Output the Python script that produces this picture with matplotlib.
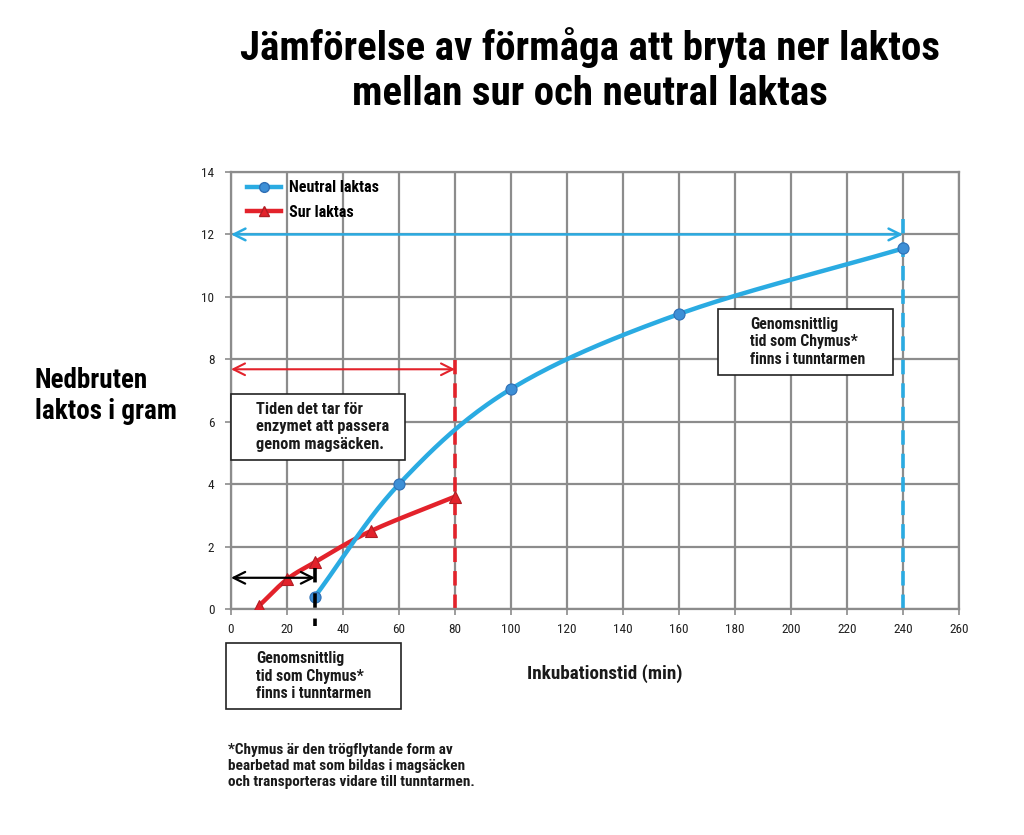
import numpy as np
import matplotlib
matplotlib.use("Agg")
import matplotlib.pyplot as plt
from matplotlib.patches import FancyArrowPatch

# ---- data ----
neutral_x = [30, 60, 100, 160, 240]
neutral_y = [0.4, 4.0, 7.05, 9.45, 11.55]
sur_x = [10, 20, 30, 50, 80]
sur_y = [0.1, 0.95, 1.5, 2.5, 3.6]
xticks = list(range(0, 261, 20))
yticks = list(range(0, 15, 2))

title = "Jämförelse av förmåga att bryta ner laktos\nmellan sur och neutral laktas"
ylabel = "Nedbruten\nlaktos i gram"
xlabel = "Inkubationstid (min)"
box1 = "Tiden det tar för\nenzymet att passera\ngenom magsäcken."
box2 = "Genomsnittlig\ntid som Chymus*\nfinns i tunntarmen"
footnote = ("*Chymus är den trögflytande form av\nbearbetad mat som bildas i magsäcken\n"
            "och transporteras vidare till tunntarmen.")

FONT = ["Roboto Condensed", "Archivo Narrow", "DejaVu Sans"]
plt.rcParams['font.family'] = FONT

BLUE = "#2AABE2"
BLUE_M = "#3D8FD6"
RED = "#E3222B"
GRID = "#8C8C8C"


def smooth(xs, ys, n=40):
    # Catmull-Rom style smoothing (Excel-like smoothed line)
    xs = np.asarray(xs, float); ys = np.asarray(ys, float)
    px = np.concatenate([[2 * xs[0] - xs[1]], xs, [2 * xs[-1] - xs[-2]]])
    py = np.concatenate([[2 * ys[0] - ys[1]], ys, [2 * ys[-1] - ys[-2]]])
    ox, oy = [], []
    t = np.linspace(0, 1, n)
    for i in range(1, len(px) - 2):
        p0, p1, p2, p3 = [np.array([px[j], py[j]]) for j in (i - 1, i, i + 1, i + 2)]
        m1 = (p2 - p0) / 2
        m2 = (p3 - p1) / 2
        h00 = 2 * t**3 - 3 * t**2 + 1
        h10 = t**3 - 2 * t**2 + t
        h01 = -2 * t**3 + 3 * t**2
        h11 = t**3 - t**2
        pts = np.outer(h00, p1) + np.outer(h10, m1) + np.outer(h01, p2) + np.outer(h11, m2)
        ox.extend(pts[:, 0]); oy.extend(pts[:, 1])
    return np.array(ox), np.array(oy)


fig = plt.figure(figsize=(10.24, 8.35), dpi=100)
ax = fig.add_axes([231 / 1024, 1 - 609 / 835, (959 - 231) / 1024, (609 - 172) / 835])
ax.set_xlim(0, 260)
ax.set_ylim(0, 14)
ax.set_xticks(xticks)
ax.set_yticks(yticks)
ax.grid(True, color=GRID, lw=1.6)
ax.set_axisbelow(True)
for s in ax.spines.values():
    s.set_color(GRID); s.set_linewidth(1.6)
ax.tick_params(axis='both', colors=GRID, length=4, width=1.2, labelsize=9.5, labelcolor="#222222")
ax.tick_params(axis='x', pad=6)
ax.tick_params(axis='y', pad=8)

# curves
sx, sy = smooth(sur_x, sur_y)
ax.plot(sx, sy, color=RED, lw=3.2, solid_capstyle='round', zorder=3)
ax.plot(sur_x, sur_y, ls='none', marker='^', ms=8, mfc=RED, mec="#B01E24", mew=0.8, zorder=4)
nx, ny = smooth(neutral_x, neutral_y)
ax.plot(nx, ny, color=BLUE, lw=3.2, solid_capstyle='round', zorder=3)
ax.plot(neutral_x, neutral_y, ls='none', marker='o', ms=8, mfc=BLUE_M, mec="#2F6FB5", mew=0.8, zorder=4)

# legend
ax.plot([], [], color=BLUE, lw=3.2, marker='o', ms=7, mfc=BLUE_M, mec="#2F6FB5", label="Neutral laktas")
ax.plot([], [], color=RED, lw=3.2, marker='^', ms=7, mfc=RED, mec="#B01E24", label="Sur laktas")
leg = ax.legend(loc='upper left', bbox_to_anchor=(0.005, 1.01), frameon=False,
                prop={'family': FONT, 'weight': 'bold', 'size': 11.5}, handlelength=2.1,
                handletextpad=0.5, labelspacing=0.6, borderaxespad=0.4)


def darrow(x0, x1, y, color, lw, ms=14):
    a = FancyArrowPatch((x1, y), (x0, y), arrowstyle='<->,head_length=0.6,head_width=0.3',
                        color=color, lw=lw, mutation_scale=ms, shrinkA=0, shrinkB=0,
                        clip_on=False, zorder=5)
    ax.add_patch(a)

darrow(0, 240, 12.0, BLUE, 1.8)
ax.plot([240, 240], [0, 12.5], color=BLUE, lw=2.6, ls=(0, (4, 2.5)), zorder=2, clip_on=False)
darrow(0, 80, 7.68, RED, 1.5)
ax.plot([80, 80], [0, 7.98], color=RED, lw=2.6, ls=(0, (4, 2.5)), zorder=2, clip_on=False)
darrow(0, 30, 1.0, "black", 1.6)
ax.plot([30, 30], [1.3, -0.55], color="black", lw=2.6, ls=(0, (4, 3)), zorder=6, clip_on=False)


def tbox(x0, y0, x1, y1, tx, text, fs):
    r = plt.Rectangle((x0 / 1024, 1 - y1 / 835), (x1 - x0) / 1024, (y1 - y0) / 835,
                      transform=fig.transFigure, facecolor='white', edgecolor='#222222',
                      lw=1.2, zorder=10)
    fig.add_artist(r)
    fig.text(tx / 1024, 1 - (y0 + y1) / 2 / 835, text, ha='left', va='center',
             fontsize=fs, fontweight='bold', color='#1a1a1a', linespacing=1.2,
             family=FONT, zorder=11)

tbox(231, 394, 405, 460, 256, box1, 11.8)
tbox(718, 309, 893, 375, 750, box2, 11.3)
tbox(226, 643, 401, 709, 256, box2, 11.3)

fig.text(590 / 1024, 1 - 70 / 835, title, ha='center', va='center', fontsize=29.5,
         fontweight='bold', family=FONT, linespacing=1.25, color='black')
fig.text(35 / 1024, 1 - 396 / 835, ylabel, ha='left', va='center', fontsize=19.5,
         fontweight='bold', family=FONT, linespacing=1.15, color='black')
fig.text(605 / 1024, 1 - 674 / 835, xlabel, ha='center', va='center', fontsize=13.8,
         fontweight='bold', family=FONT, color='#1a1a1a')
fig.text(228 / 1024, 1 - 766 / 835, footnote, ha='left', va='center', fontsize=11,
         fontweight='bold', family=FONT, linespacing=1.2, color='#1a1a1a')

fig.savefig("out.png", dpi=100, facecolor='white')
